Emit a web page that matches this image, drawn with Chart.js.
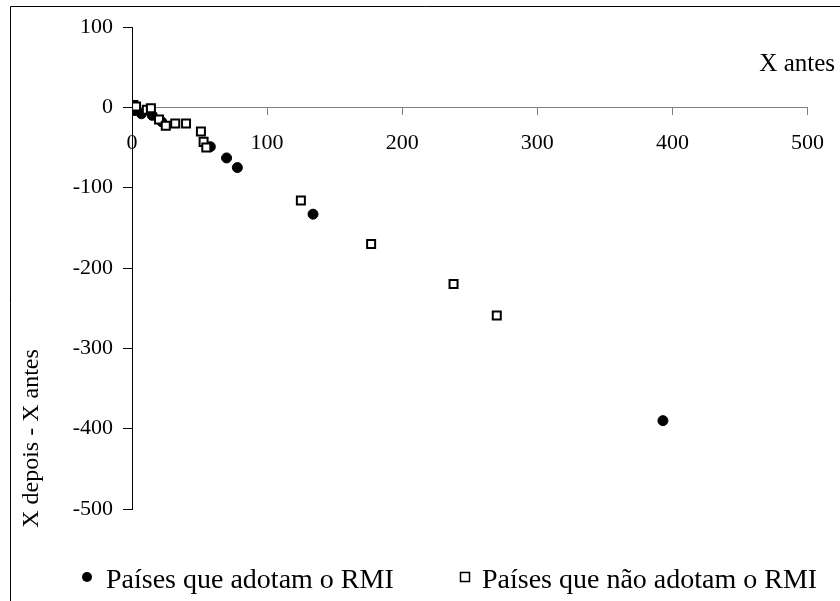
<!DOCTYPE html>
<html>
<head>
<meta charset="utf-8">
<script src="https://cdn.jsdelivr.net/npm/chart.js@4/dist/chart.umd.min.js"></script>
<style>
  html, body { margin: 0; padding: 0; background: #ffffff; }
  #wrap { position: relative; width: 840px; height: 601px; }
</style>
</head>
<body>
<div id="wrap"><canvas id="c"></canvas></div>
<script>
// ---- data ----
const seriesNames = ['Países que adotam o RMI', 'Países que não adotam o RMI'];
const xTitle = 'X antes';
const yTitle = 'X depois - X antes';

const rmiX = [2, 7, 15, 22, 58, 70, 78, 134, 393];
const rmiY = [-4, -8, -10, -18, -49, -63, -75, -133, -390];

const naoX = [1, 3, 11, 14, 20, 25, 32, 40, 51, 53, 55, 125, 177, 238, 270];
const naoY = [3, 1, -3, -1, -15, -23, -20, -20, -30, -43, -50, -116, -170, -220, -259];

const xTicks = [0, 100, 200, 300, 400, 500];
const yTicks = [100, 0, -100, -200, -300, -400, -500];

const toPoints = (xs, ys) => xs.map((x, i) => ({ x: x, y: ys[i] }));

const FONT = "'Liberation Serif', 'Times New Roman', serif";

const annotPlugin = {
  id: 'annot',
  afterDraw(chart) {
    const ctx = chart.ctx;
    ctx.save();
    // outer frame (left and top edges)
    ctx.strokeStyle = '#000';
    ctx.lineWidth = 1;
    ctx.beginPath();
    ctx.moveTo(10.5, 601);
    ctx.lineTo(10.5, 6.5);
    ctx.lineTo(840, 6.5);
    ctx.stroke();

    ctx.fillStyle = '#000';
    // x title at right
    ctx.font = '25px ' + FONT;
    ctx.textAlign = 'right';
    ctx.textBaseline = 'alphabetic';
    ctx.fillText(xTitle, 835, 70.5);

    // y title rotated
    ctx.save();
    ctx.translate(37.5, 438.5);
    ctx.rotate(-Math.PI / 2);
    ctx.font = '24px ' + FONT;
    ctx.textAlign = 'center';
    ctx.textBaseline = 'alphabetic';
    ctx.fillText(yTitle, 0, 0);
    ctx.restore();

    // legend
    const ds = chart.data.datasets;
    const items = [
      { d: ds[0], mx: 87, tx: 106 },
      { d: ds[1], mx: 465, tx: 482 }
    ];
    const my = 577;
    items.forEach(it => {
      ctx.save();
      ctx.fillStyle = it.d.backgroundColor;
      ctx.strokeStyle = it.d.borderColor;
      if (it.d.pointStyle === 'circle') {
        ctx.beginPath();
        ctx.arc(it.mx, my, 5, 0, Math.PI * 2);
        ctx.fill();
      } else {
        ctx.lineWidth = 1.5;
        ctx.fillRect(it.mx - 4.5, my - 4.5, 9, 9);
        ctx.strokeRect(it.mx - 4.5, my - 4.5, 9, 9);
      }
      ctx.restore();
      ctx.fillStyle = '#000';
      ctx.font = '28px ' + FONT;
      ctx.textAlign = 'left';
      ctx.textBaseline = 'alphabetic';
      ctx.fillText(it.d.label, it.tx, 588);
    });
    ctx.restore();
  }
};

new Chart(document.getElementById('c'), {
  type: 'scatter',
  data: {
    datasets: [
      {
        label: seriesNames[0],
        data: toPoints(rmiX, rmiY),
        pointStyle: 'circle',
        radius: 5,
        backgroundColor: '#000000',
        borderColor: '#000000',
        borderWidth: 1,
        order: 1
      },
      {
        label: seriesNames[1],
        data: toPoints(naoX, naoY),
        pointStyle: 'rect',
        radius: 5.66,
        backgroundColor: '#ffffff',
        borderColor: '#000000',
        borderWidth: 2,
        order: 0
      }
    ]
  },
  options: {
    responsive: true,
    maintainAspectRatio: false,
    animation: false,
    events: [],
    layout: { padding: { top: 27, right: 20, bottom: 92, left: 0 } },
    plugins: {
      legend: { display: false },
      tooltip: { enabled: false },
      title: { display: false }
    },
    scales: {
      x: {
        type: 'linear',
        min: 0,
        max: 500,
        position: { y: 0 },
        afterBuildTicks(scale) { scale.ticks = xTicks.map(v => ({ value: v })); },
        grid: { drawOnChartArea: false, drawTicks: true, tickLength: 7, color: '#808080', lineWidth: 1 },
        border: { display: true, color: '#808080', width: 1 },
        ticks: { color: '#000', padding: 16, maxRotation: 0, font: { family: FONT, size: 22 } }
      },
      y: {
        type: 'linear',
        min: -500,
        max: 100,
        afterBuildTicks(scale) { scale.ticks = yTicks.slice().reverse().map(v => ({ value: v })); },
        afterFit(scale) { scale.width = 132; },
        grid: { drawOnChartArea: false, drawTicks: true, tickLength: 9, color: '#000', lineWidth: 1 },
        border: { display: true, color: '#000', width: 1 },
        ticks: { color: '#000', padding: 10, font: { family: FONT, size: 22 } }
      }
    }
  },
  plugins: [annotPlugin]
});
</script>
</body>
</html>
